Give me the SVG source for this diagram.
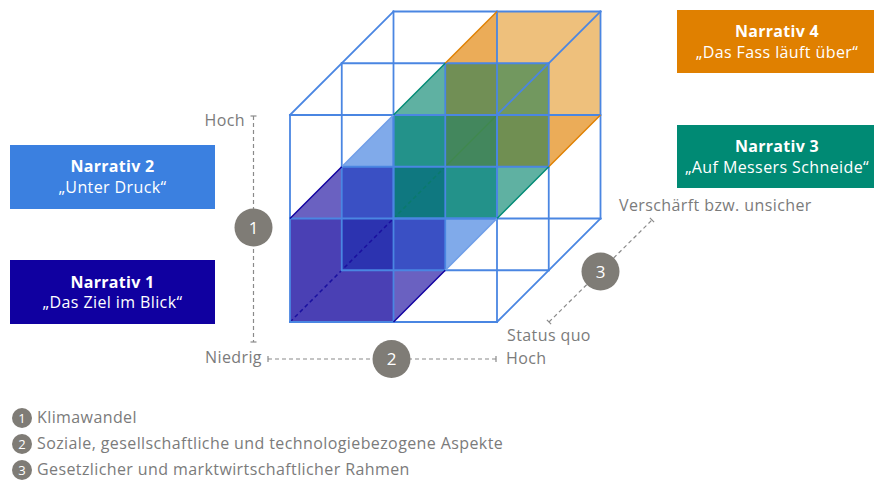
<svg xmlns="http://www.w3.org/2000/svg" width="874" height="482" viewBox="0 0 874 482">
  <style>
    .lbl { font-family: "Open Sans", "Liberation Sans", sans-serif; font-size: 16px; letter-spacing: 0.4px; fill: #7b7b7b; }
    .box-t { font-family: "Open Sans", "Liberation Sans", sans-serif; font-size: 16px; letter-spacing: 0.4px; fill: #ffffff; text-anchor: middle; }
    .box-t.b { font-weight: bold; letter-spacing: 0.3px; }
    .num { font-family: "Open Sans", "Liberation Sans", sans-serif; font-size: 17px; fill: #ffffff; text-anchor: middle; }
    .num-s { font-family: "Open Sans", "Liberation Sans", sans-serif; font-size: 13px; fill: #ffffff; text-anchor: middle; }
    .dot { fill: #7f7c76; }
    .axis { stroke: #8a8a8a; stroke-width: 1.2; stroke-dasharray: 4 3; fill: none; }
    .cap { stroke: #8a8a8a; stroke-width: 1.2; fill: none; }
    .wire { stroke: #4a86e2; stroke-width: 1.8; fill: none; stroke-linecap: square; }
  </style>

  <!-- Cube: translucent-looking fills, 2x2x2 lattice, coloured silhouette edges -->
  <g id="cube">
    <g id="cube-fills" stroke="none">
      <!-- orange block (Narrativ 4) -->
      <polygon points="445.25,63.25 497,11.5 497,63.25" fill="#ebac58"/>
      <polygon points="497,11.5 600.5,11.5 600.5,115 548.75,115 548.75,63.25 497,63.25" fill="#eec07c"/>
      <polygon points="548.75,115 600.5,115 548.75,166.75" fill="#ebac58"/>
      <rect x="445.25" y="63.25" width="51.75" height="51.75" fill="#718f55"/>
      <rect x="497" y="63.25" width="51.75" height="51.75" fill="#72985f"/>
      <rect x="497" y="115" width="51.75" height="51.75" fill="#708f52"/>
      <rect x="445.25" y="115" width="51.75" height="51.75" fill="#43875d"/>
      <!-- teal block (Narrativ 3) -->
      <polygon points="393.5,115 445.25,63.25 445.25,115" fill="#5fb1a2"/>
      <rect x="393.5" y="115" width="51.75" height="51.75" fill="#23928a"/>
      <rect x="393.5" y="166.75" width="51.75" height="51.75" fill="#0f7880"/>
      <rect x="445.25" y="166.75" width="51.75" height="51.75" fill="#23928a"/>
      <polygon points="497,166.75 548.75,166.75 497,218.5" fill="#5fb1a2"/>
      <!-- light blue block (Narrativ 2) -->
      <polygon points="341.75,166.75 393.5,115 393.5,166.75" fill="#80aaea"/>
      <rect x="341.75" y="166.75" width="51.75" height="51.75" fill="#3a50c4"/>
      <rect x="393.5" y="218.5" width="51.75" height="51.75" fill="#3a50c4"/>
      <polygon points="445.25,218.5 497,218.5 445.25,270.25" fill="#80aaea"/>
      <!-- dark blue block (Narrativ 1) -->
      <polygon points="290,218.5 341.75,166.75 341.75,218.5" fill="#6a61c1"/>
      <polygon points="290,218.5 341.75,218.5 341.75,270.25 393.5,270.25 393.5,322 290,322" fill="#4a40b4"/>
      <rect x="341.75" y="218.5" width="51.75" height="51.75" fill="#2c33b0"/>
      <polygon points="393.5,270.25 445.25,270.25 393.5,322" fill="#6a61c1"/>
    </g>

    <!-- hidden edges -->
    <g id="cube-hidden" fill="none">
      <line x1="290" y1="322" x2="393.5" y2="218.5" stroke="#1a10a0" stroke-width="1.5" stroke-dasharray="4 3"/>
      <line x1="393.5" y1="218.5" x2="445.25" y2="166.75" stroke="#0a7a6c" stroke-width="1.5" stroke-dasharray="4 3"/>
      <line x1="445.25" y1="166.75" x2="497" y2="115" stroke="#3f8a4a" stroke-width="1.2" opacity="0.8"/>
    </g>

    <!-- lattice wireframe -->
    <g id="cube-wire" class="wire">
      <!-- horizontals -->
      <line x1="290" y1="115" x2="497" y2="115"/>
      <line x1="290" y1="218.5" x2="497" y2="218.5"/>
      <line x1="290" y1="322" x2="497" y2="322"/>
      <line x1="341.75" y1="63.25" x2="548.75" y2="63.25"/>
      <line x1="341.75" y1="166.75" x2="548.75" y2="166.75"/>
      <line x1="341.75" y1="270.25" x2="548.75" y2="270.25"/>
      <line x1="393.5" y1="11.5" x2="600.5" y2="11.5"/>
      <line x1="393.5" y1="115" x2="600.5" y2="115"/>
      <line x1="393.5" y1="218.5" x2="600.5" y2="218.5"/>
      <!-- verticals -->
      <line x1="290" y1="115" x2="290" y2="322"/>
      <line x1="393.5" y1="115" x2="393.5" y2="322"/>
      <line x1="497" y1="115" x2="497" y2="322"/>
      <line x1="341.75" y1="63.25" x2="341.75" y2="270.25"/>
      <line x1="445.25" y1="63.25" x2="445.25" y2="270.25"/>
      <line x1="548.75" y1="63.25" x2="548.75" y2="270.25"/>
      <line x1="393.5" y1="11.5" x2="393.5" y2="218.5"/>
      <line x1="497" y1="11.5" x2="497" y2="218.5"/>
      <line x1="600.5" y1="11.5" x2="600.5" y2="218.5"/>
      <!-- depth edges -->
      <line x1="290" y1="115" x2="393.5" y2="11.5"/>
      <line x1="497" y1="115" x2="600.5" y2="11.5"/>
      <line x1="497" y1="322" x2="600.5" y2="218.5"/>
    </g>

    <!-- coloured silhouette edges -->
    <g id="cube-edges" fill="none" stroke-width="1.5">
      <line x1="445.25" y1="63.25" x2="497" y2="11.5" stroke="#e08000"/>
      <line x1="548.75" y1="166.75" x2="600.5" y2="115" stroke="#e08000"/>
      <line x1="393.5" y1="115" x2="445.25" y2="63.25" stroke="#008a74"/>
      <line x1="497" y1="218.5" x2="548.75" y2="166.75" stroke="#008a74"/>
      <line x1="341.75" y1="166.75" x2="393.5" y2="115" stroke="#6f9ee8"/>
      <line x1="445.25" y1="270.25" x2="497" y2="218.5" stroke="#6f9ee8"/>
      <line x1="290" y1="218.5" x2="341.75" y2="166.75" stroke="#1000a0"/>
      <line x1="393.5" y1="322" x2="445.25" y2="270.25" stroke="#1000a0"/>
    </g>
  </g>

  <!-- Narrative boxes -->
  <g id="narrativ-2">
    <rect x="10" y="145" width="205" height="64" fill="#3b80e0"/>
    <text class="box-t b" x="112.5" y="172">Narrativ 2</text>
    <text class="box-t" x="112.5" y="193">„Unter Druck“</text>
  </g>
  <g id="narrativ-1">
    <rect x="10" y="260" width="205" height="64" fill="#1000a0"/>
    <text class="box-t b" x="112.5" y="288">Narrativ 1</text>
    <text class="box-t" x="112.5" y="308">„Das Ziel im Blick“</text>
  </g>
  <g id="narrativ-4">
    <rect x="677" y="10" width="197" height="63" fill="#e08000"/>
    <text class="box-t b" x="777" y="37">Narrativ 4</text>
    <text class="box-t" x="777" y="58">„Das Fass läuft über“</text>
  </g>
  <g id="narrativ-3">
    <rect x="677" y="125" width="197" height="63" fill="#008a74"/>
    <text class="box-t b" x="777" y="152">Narrativ 3</text>
    <text class="box-t" x="777" y="173">„Auf Messers Schneide“</text>
  </g>

  <!-- Axis 1: vertical -->
  <g id="axis-1">
    <line class="axis" x1="253.5" y1="116" x2="253.5" y2="342"/>
    <line class="cap" x1="250.5" y1="116" x2="256.5" y2="116"/>
    <line class="cap" x1="250.5" y1="342" x2="256.5" y2="342"/>
    <circle class="dot" cx="253.5" cy="227.5" r="19"/>
    <text class="num" x="253.5" y="233.5">1</text>
    <text class="lbl" x="245" y="126" text-anchor="end">Hoch</text>
    <text class="lbl" x="205" y="363">Niedrig</text>
  </g>

  <!-- Axis 2: horizontal -->
  <g id="axis-2">
    <line class="axis" x1="268" y1="359" x2="496" y2="359"/>
    <line class="cap" x1="268" y1="356" x2="268" y2="362"/>
    <line class="cap" x1="496" y1="356" x2="496" y2="362"/>
    <circle class="dot" cx="391.5" cy="359" r="19"/>
    <text class="num" x="391.5" y="365">2</text>
    <text class="lbl" x="506" y="364">Hoch</text>
  </g>

  <!-- Axis 3: depth -->
  <g id="axis-3">
    <line class="axis" x1="549" y1="322" x2="652" y2="220"/>
    <line class="cap" x1="546.9" y1="319.9" x2="551.1" y2="324.1"/>
    <line class="cap" x1="649.9" y1="217.9" x2="654.1" y2="222.1"/>
    <circle class="dot" cx="600.5" cy="271.5" r="19"/>
    <text class="num" x="600.5" y="277.5">3</text>
    <text class="lbl" x="507" y="341">Status quo</text>
    <text class="lbl" x="619" y="211">Verschärft bzw. unsicher</text>
  </g>

  <!-- Legend -->
  <g id="legend">
    <circle class="dot" cx="22" cy="418" r="10"/>
    <text class="num-s" x="22" y="422.5">1</text>
    <text class="lbl" x="37" y="423">Klimawandel</text>
    <circle class="dot" cx="22" cy="444" r="10"/>
    <text class="num-s" x="22" y="448.5">2</text>
    <text class="lbl" x="37" y="449">Soziale, gesellschaftliche und technologiebezogene Aspekte</text>
    <circle class="dot" cx="22" cy="470" r="10"/>
    <text class="num-s" x="22" y="474.5">3</text>
    <text class="lbl" x="37" y="475">Gesetzlicher und marktwirtschaftlicher Rahmen</text>
  </g>
</svg>
